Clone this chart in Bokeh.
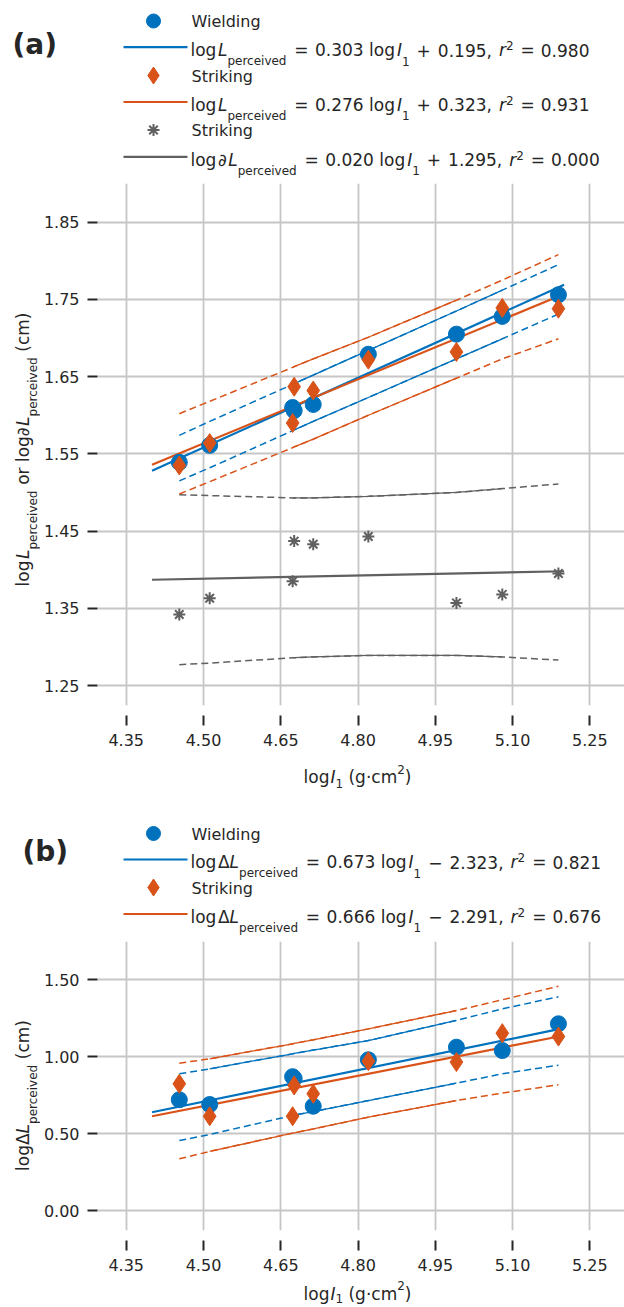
import math
from bokeh.plotting import figure
from bokeh.layouts import column, row
from bokeh.models import Range1d, FixedTicker, PrintfTickFormatter
from bokeh.core.properties import value
from bokeh.embed import file_html
from bokeh.resources import INLINE

# ------------------------------------------------------------------ data
log_I1 = [4.453, 4.512, 4.673, 4.676, 4.713, 4.820, 4.991, 5.080, 5.189]

# panel (a)
a_wielding = [1.539, 1.561, 1.610, 1.606, 1.614, 1.679, 1.705, 1.728, 1.756]
a_striking = [1.535, 1.564, 1.590, 1.637, 1.632, 1.672, 1.682, 1.739, 1.738]
a_partial_striking = [1.342, 1.363, 1.385, 1.437, 1.433, 1.443, 1.357, 1.368, 1.395]

a_fit_x = [4.40, 5.20]
a_fit_wielding = [1.528, 1.769]
a_fit_striking = [1.536, 1.757]
a_fit_partial = [1.387, 1.398]

a_band_wielding_hi = [1.574, 1.592, 1.640, 1.641, 1.652, 1.684, 1.735, 1.762, 1.795]
a_band_wielding_lo = [1.515, 1.532, 1.580, 1.581, 1.592, 1.623, 1.673, 1.699, 1.731]
a_band_striking_hi = [1.602, 1.618, 1.662, 1.663, 1.673, 1.701, 1.749, 1.775, 1.808]
a_band_striking_lo = [1.498, 1.514, 1.558, 1.559, 1.569, 1.600, 1.648, 1.673, 1.699]
a_band_partial_hi = [1.497, 1.496, 1.493, 1.493, 1.493, 1.495, 1.500, 1.505, 1.511]
a_band_partial_lo = [1.277, 1.279, 1.286, 1.286, 1.287, 1.289, 1.289, 1.287, 1.283]

# panel (b)
b_wielding = [0.720, 0.689, 0.870, 0.859, 0.678, 0.980, 1.062, 1.040, 1.214]
b_striking = [0.824, 0.613, 0.613, 0.813, 0.759, 0.971, 0.965, 1.153, 1.131]

b_fit_x = [4.40, 5.185]
b_fit_wielding = [0.639, 1.176]
b_fit_striking = [0.613, 1.128]

b_band_wielding_hi = [0.889, 0.921, 1.019, 1.021, 1.043, 1.105, 1.236, 1.311, 1.390]
b_band_wielding_lo = [0.455, 0.494, 0.618, 0.620, 0.643, 0.715, 0.828, 0.889, 0.945]
b_band_striking_hi = [0.958, 0.986, 1.084, 1.086, 1.110, 1.181, 1.300, 1.370, 1.458]
b_band_striking_lo = [0.336, 0.384, 0.503, 0.505, 0.530, 0.607, 0.715, 0.763, 0.818]

# ticks
x_ticks = [4.35, 4.50, 4.65, 4.80, 4.95, 5.10, 5.25]
a_y_ticks = [1.25, 1.35, 1.45, 1.55, 1.65, 1.75, 1.85]
b_y_ticks = [0.00, 0.50, 1.00, 1.50]

# legend equations (slope, sign, constant, r^2)
a_eq_wielding = ("0.303", "+", "0.195", "0.980")
a_eq_striking = ("0.276", "+", "0.323", "0.931")
a_eq_partial = ("0.020", "+", "1.295", "0.000")
b_eq_wielding = ("0.673", "\u2212", "2.323", "0.821")
b_eq_striking = ("0.666", "\u2212", "2.291", "0.676")

# ------------------------------------------------------------------ style
FONT = "DejaVu Sans"
BLUE = "#0072BD"
ORANGE = "#D95319"
GRAY = "#606060"
INK = "#262626"
GRID = "#c6c6c6"

W_EM = {' ': 0.318, '(': 0.390, ')': 0.390, '+': 0.838, ',': 0.318, '.': 0.318,
        '=': 0.838, '\u2212': 0.838, 'I': 0.295, 'L': 0.557, 'S': 0.635, 'W': 0.989,
        'c': 0.550, 'd': 0.635, 'e': 0.615, 'g': 0.635, 'i': 0.278, 'k': 0.579,
        'l': 0.278, 'm': 0.974, 'n': 0.634, 'o': 0.612, 'p': 0.635, 'r': 0.411,
        't': 0.392, 'v': 0.592, '\u0394': 0.684, '\u2202': 0.602, '\u00b7': 0.318}
for d in "0123456789":
    W_EM[d] = 0.636


def tw(s, fs):
    return sum(W_EM.get(c, 0.6) for c in s) * fs


def layout_segments(segs, size=17, sub=12, drop=11.0, rise=4.5):
    out, x = [], 0.0
    for t, st in segs:
        if t == "gap":
            x += st
            continue
        if st in ("n", "i"):
            fs, dy = size, 0.0
        elif st == "sub":
            fs, dy = sub, drop
        else:
            fs, dy = sub, -rise
        out.append(dict(dx=x, dy=dy, text=t, size=fs,
                        style="italic" if st == "i" else "normal"))
        x += tw(t, fs)
    return out, x


def eq_segs(prefix, eq):
    slope, sign, const, r2 = eq
    segs = [("log", "n"), ("gap", 1.5)]
    if prefix:
        segs.append((prefix, "n"))
    segs += [("L", "i"), ("perceived", "sub"), ("gap", 7.5), ("=", "n"), ("gap", 6.5),
             (slope + " log", "n"), ("gap", 2.0), ("I", "i"), ("1", "sub"), ("gap", 7.0),
             (sign, "n"), ("gap", 7.0), (const + ",", "n"), ("gap", 7.0), ("r", "i"),
             ("2", "sup"), ("gap", 7.0), ("=", "n"), ("gap", 6.0), (r2, "n")]
    return segs


x_label_segs = [("log", "n"), ("gap", 1.0), ("I", "i"), ("1", "sub"), ("gap", 5.4),
                ("(g\u00b7cm", "n"), ("2", "sup"), (")", "n")]
a_ylabel_segs = [("log", "n"), ("gap", 1.5), ("L", "i"), ("perceived", "sub"), ("gap", 5.4),
                 ("or log", "n"), ("\u2202", "n"), ("L", "i"), ("perceived", "sub"),
                 ("gap", 5.4), ("(cm)", "n")]
b_ylabel_segs = [("log", "n"), ("\u0394", "n"), ("L", "i"), ("perceived", "sub"),
                 ("gap", 5.4), ("(cm)", "n")]

# ------------------------------------------------------------------ geometry
PAGE_W = 624
YL_W = 40                      # strip holding the rotated y titles
FRAME_L = 96                   # page x of the plot frames' left edge
X_PPU = 516.1
X0 = 4.35 - (124.8 - FRAME_L) / X_PPU
X1 = X0 + (PAGE_W - FRAME_L) / X_PPU

LEG_A_H = 183
A_FRAME_H, A_BOTTOM = 522, 55
A_PPU = 772.2
AY1 = 1.85 + (221.7 - 183) / A_PPU
AY0 = AY1 - A_FRAME_H / A_PPU
XT_A_H = 30

LEG_B_H = 151
B_FRAME_H, B_BOTTOM = 289, 48
B_PPU = 153.8
BY1 = 1.50 + (979.3 - 941) / B_PPU
BY0 = BY1 - B_FRAME_H / B_PPU
XT_B_H = 29


# ------------------------------------------------------------------ helpers
def no_align(p):
    try:
        if "frame_align" in p.properties():
            p.frame_align = False
    except Exception:
        pass
    return p


def blank_fig(w, h, flip=True):
    p = figure(width=w, height=h, x_range=Range1d(0, w),
               y_range=Range1d(h, 0) if flip else Range1d(0, h),
               x_axis_location=None, y_axis_location=None, output_backend="svg",
               toolbar_location=None, min_border=0)
    p.grid.visible = False
    p.outline_line_color = None
    return no_align(p)


def glyph_text(p, x, y, text, size, style="normal", baseline="alphabetic", angle=0.0):
    p.text(x=[x], y=[y], text=[text], text_font=value(FONT),
           text_font_size=f"{size}px", text_font_style=style, angle=angle,
           text_align="left", text_baseline=baseline, text_color=INK)


def rich_h(p, segs, x, base, drop=11.0, rise=4.5, center=False):
    pieces, total = layout_segments(segs, drop=drop, rise=rise)
    if center:
        x = x - total / 2
    for pc in pieces:
        glyph_text(p, x + pc["dx"], base + pc["dy"], pc["text"], pc["size"], pc["style"])


def rich_v(p, segs, base_x, center_y, drop=11.0, rise=5.0):
    # y axis of p points up; text runs upward, sub/superscripts shift along +x / -x
    pieces, total = layout_segments(segs, drop=drop, rise=rise)
    start = center_y - total / 2
    for pc in pieces:
        glyph_text(p, base_x + pc["dy"], start + pc["dx"], pc["text"], pc["size"],
                   pc["style"], angle=math.pi / 2)


def legend_marker(p, kind, color, y):
    if kind == "circle":
        p.scatter([153], [y], marker="circle", size=14, fill_color=color, line_color=color)
    elif kind == "diamond":
        p.scatter([153], [y], marker="diamond", size=17, fill_color=color, line_color=color)
    else:
        p.scatter([153], [y], marker="asterisk", size=12, line_color=color, line_width=2)


def legend_line(p, color, y):
    p.line([123, 187], [y, y], line_color=color, line_width=2.2)


def make_plot(frame_h, bottom, yr, yticks):
    p = figure(width=PAGE_W - YL_W, height=frame_h + bottom, x_range=Range1d(X0, X1),
               y_range=Range1d(*yr), output_backend="svg", toolbar_location=None,
               min_border_left=FRAME_L - YL_W, min_border_right=0, min_border_top=0,
               min_border_bottom=bottom)
    no_align(p)
    p.outline_line_color = None
    p.xaxis.ticker = FixedTicker(ticks=x_ticks)
    p.yaxis.ticker = FixedTicker(ticks=yticks)
    for ax in p.axis:
        ax.formatter = PrintfTickFormatter(format="%.2f")
        ax.axis_line_color = None
        ax.major_tick_line_color = INK
        ax.major_tick_line_width = 2
        ax.minor_tick_line_color = None
        ax.major_label_text_font = FONT
        ax.major_label_text_font_size = "16px"
        ax.major_label_text_color = INK
    p.xaxis.major_tick_in = -10
    p.xaxis.major_tick_out = 20
    p.xaxis.major_label_standoff = 8
    p.yaxis.major_tick_in = 0
    p.yaxis.major_tick_out = 10
    p.yaxis.major_label_standoff = 8
    p.grid.grid_line_color = GRID
    p.grid.grid_line_width = 1.8
    return p


def band(p, x, y, color, solid_range):
    p.line(x, y, line_color=color, line_width=1.5, line_dash="7 4")
    xs = [a for a in x if solid_range[0] <= a <= solid_range[1]]
    ys = [b for a, b in zip(x, y) if solid_range[0] <= a <= solid_range[1]]
    p.line(xs, ys, line_color=color, line_width=1.3)


# ------------------------------------------------------------------ legend (a)
la = blank_fig(PAGE_W, LEG_A_H)
glyph_text(la, 12, 43.5, "(a)", 28, style="bold", baseline="middle")
legend_marker(la, "circle", BLUE, 20.5)
glyph_text(la, 191, 21.0, "Wielding", 16, baseline="middle")
legend_line(la, BLUE, 46.7)
rich_h(la, eq_segs("", a_eq_wielding), 190, 49.5)
legend_marker(la, "diamond", ORANGE, 75.0)
glyph_text(la, 191, 75.5, "Striking", 16, baseline="middle")
legend_line(la, ORANGE, 101.5)
rich_h(la, eq_segs("", a_eq_striking), 190, 104.3)
legend_marker(la, "asterisk", GRAY, 129.5)
glyph_text(la, 191, 130.0, "Striking", 16, baseline="middle")
legend_line(la, GRAY, 156.3)
rich_h(la, eq_segs("\u2202", a_eq_partial), 190, 159.1)

# ------------------------------------------------------------------ plot (a)
pa = make_plot(A_FRAME_H, A_BOTTOM, (AY0, AY1), a_y_ticks)
band(pa, log_I1, a_band_partial_hi, GRAY, (4.67, 5.09))
band(pa, log_I1, a_band_partial_lo, GRAY, (4.67, 5.09))
band(pa, log_I1, a_band_striking_hi, ORANGE, (4.67, 5.00))
band(pa, log_I1, a_band_striking_lo, ORANGE, (4.67, 5.00))
band(pa, log_I1, a_band_wielding_hi, BLUE, (4.67, 5.09))
band(pa, log_I1, a_band_wielding_lo, BLUE, (4.67, 5.09))
pa.line(a_fit_x, a_fit_partial, line_color=GRAY, line_width=2.2)
pa.line(a_fit_x, a_fit_wielding, line_color=BLUE, line_width=2.2)
pa.line(a_fit_x, a_fit_striking, line_color=ORANGE, line_width=2.2)
pa.scatter(log_I1, a_wielding, marker="circle", size=16, fill_color=BLUE, line_color=BLUE)
pa.scatter(log_I1, a_striking, marker="diamond", size=19, fill_color=ORANGE,
           line_color=ORANGE)
pa.scatter(log_I1, a_partial_striking, marker="asterisk", size=12, line_color=GRAY,
           line_width=2)

A_H = A_FRAME_H + A_BOTTOM
yla = blank_fig(YL_W, A_H, flip=False)
rich_v(yla, a_ylabel_segs, 22, A_H - (449 - LEG_A_H), drop=10.5)

xta = blank_fig(PAGE_W, XT_A_H)
rich_h(xta, x_label_segs, 357, 16.5, drop=6.5, rise=8, center=True)

# ------------------------------------------------------------------ legend (b)
lb = blank_fig(PAGE_W, LEG_B_H)
glyph_text(lb, 22, 61, "(b)", 28, style="bold", baseline="middle")
legend_marker(lb, "circle", BLUE, 43)
glyph_text(lb, 191, 43.5, "Wielding", 16, baseline="middle")
legend_line(lb, BLUE, 69)
rich_h(lb, eq_segs("\u0394", b_eq_wielding), 190, 71.8)
legend_marker(lb, "diamond", ORANGE, 97)
glyph_text(lb, 191, 97.5, "Striking", 16, baseline="middle")
legend_line(lb, ORANGE, 123.5)
rich_h(lb, eq_segs("\u0394", b_eq_striking), 190, 126.3)

# ------------------------------------------------------------------ plot (b)
pb = make_plot(B_FRAME_H, B_BOTTOM, (BY0, BY1), b_y_ticks)
band(pb, log_I1, b_band_striking_hi, ORANGE, (4.50, 5.00))
band(pb, log_I1, b_band_striking_lo, ORANGE, (4.50, 5.00))
band(pb, log_I1, b_band_wielding_hi, BLUE, (4.50, 5.00))
band(pb, log_I1, b_band_wielding_lo, BLUE, (4.67, 5.00))
pb.line(b_fit_x, b_fit_wielding, line_color=BLUE, line_width=2.2)
pb.line(b_fit_x, b_fit_striking, line_color=ORANGE, line_width=2.2)
pb.scatter(log_I1, b_wielding, marker="circle", size=16, fill_color=BLUE, line_color=BLUE)
pb.scatter(log_I1, b_striking, marker="diamond", size=19, fill_color=ORANGE,
           line_color=ORANGE)

B_H = B_FRAME_H + B_BOTTOM
B_TOP = LEG_A_H + A_H + XT_A_H + LEG_B_H
ylb = blank_fig(YL_W, B_H, flip=False)
rich_v(ylb, b_ylabel_segs, 22, B_H - (1095 - B_TOP), drop=10.5)

xtb = blank_fig(PAGE_W, XT_B_H)
rich_h(xtb, x_label_segs, 357, 15, drop=5, rise=8, center=True)

layout = column(la, row(yla, pa, spacing=0), xta, lb, row(ylb, pb, spacing=0), xtb,
                spacing=0)
open("out.html", "w").write(file_html(layout, INLINE))
